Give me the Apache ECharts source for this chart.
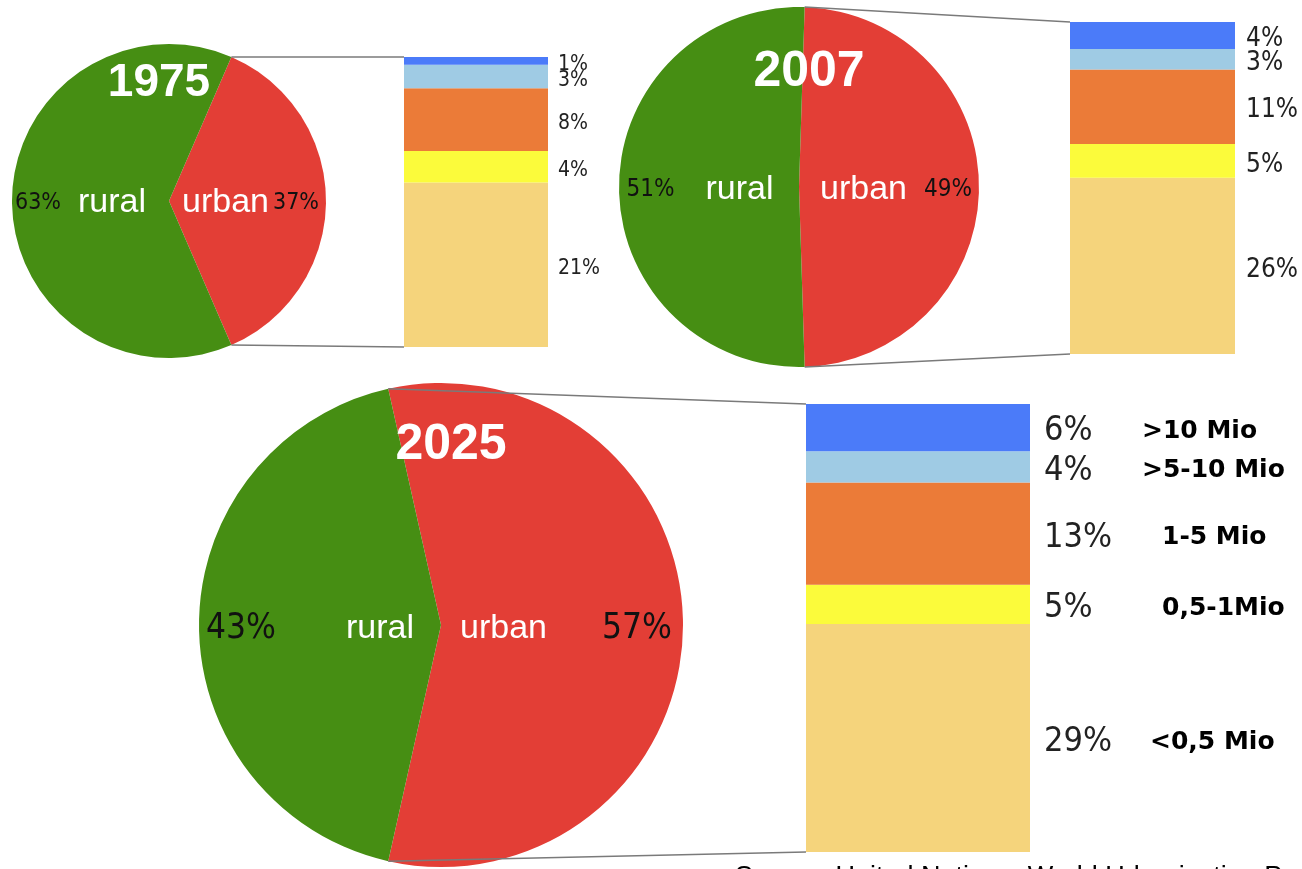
<!DOCTYPE html>
<html>
<head>
<meta charset="utf-8">
<script src="https://cdn.jsdelivr.net/npm/echarts@6/dist/echarts.min.js"></script>
<style>
  html, body { margin: 0; padding: 0; background: #fff; }
  #chart { width: 1302px; height: 869px; }
</style>
</head>
<body>
<div id="chart"></div>
<script>
// values
const years = ['1975', '2007', '2025'];
const ruralShare = [63, 51, 43];
const urbanShare = [37, 49, 57];
// urban population by city size, bottom of the bar first
const sizeClasses = ['<0,5 Mio', '0,5-1Mio', '1-5 Mio', '>5-10 Mio', '>10 Mio'];
const share1975 = [21, 4, 8, 3, 1];
const share2007 = [26, 5, 11, 3, 4];
const share2025 = [29, 5, 13, 4, 6];
const sourceText = 'Source: United Nations, World Urbanization Prospects';

const shares = [share1975, share2007, share2025];
const classColors = ['#f5d47c', '#fbfb3b', '#eb7b38', '#9fcbe4', '#4b7bf9'];
const nameIndent = [8, 20, 20, 0, 0];
const narrow = "'DejaVu Sans Condensed', 'Liberation Sans Narrow', sans-serif";
const sans = "'Liberation Sans', Arial, sans-serif";

// layout of the three panels
const panels = [
  { center: [169, 201], r: 157, grid: { left: 404, top: 57, width: 144, height: 290 },
    barFont: 21, barDist: 10, pieFont: 23, titleFont: 46, titleOff: [-10, -118],
    ruralOff: [-7, 2], urbanOff: [0, 2], ruralGap: 17, urbanGap: 4 },
  { center: [799, 187], r: 180, grid: { left: 1070, top: 22, width: 165, height: 332 },
    barFont: 26, barDist: 11, pieFont: 24, titleFont: 50, titleOff: [10, -115],
    ruralOff: [-6, 3], urbanOff: [4, 3], ruralGap: 31, urbanGap: 17 },
  { center: [441, 625], r: 242, grid: { left: 806, top: 404, width: 224, height: 448 },
    barFont: 34, barDist: 14, pieFont: 35, titleFont: 50, titleOff: [10, -180],
    ruralOff: [-7, 4], urbanOff: [1, 4], ruralGap: 70, urbanGap: 55, withNames: true }
];

const chart = echarts.init(document.getElementById('chart'));

const series = [];
panels.forEach(function (p, i) {
  const u = urbanShare[i];
  series.push({
    type: 'pie',
    center: p.center,
    radius: p.r,
    startAngle: u * 1.8,
    clockwise: true,
    silent: true,
    avoidLabelOverlap: false,
    labelLine: { show: false },
    data: [
      {
        name: 'urban', value: u,
        itemStyle: { color: '#e33e36' },
        label: {
          show: true, position: 'inside', offset: p.urbanOff,
          formatter: '{n|urban}{p|' + u + '%}',
          rich: {
            n: { fontFamily: sans, fontSize: 34, color: '#fff', padding: [0, p.urbanGap, 0, 0], lineHeight: 40 },
            p: { fontFamily: narrow, fontSize: p.pieFont, color: '#111', lineHeight: 40 }
          }
        }
      },
      {
        name: 'rural', value: ruralShare[i],
        itemStyle: { color: '#468e13' },
        label: {
          show: true, position: 'inside', offset: p.ruralOff,
          formatter: '{p|' + ruralShare[i] + '%}{n|rural}',
          rich: {
            n: { fontFamily: sans, fontSize: 34, color: '#fff', padding: [0, 0, 0, p.ruralGap], lineHeight: 40 },
            p: { fontFamily: narrow, fontSize: p.pieFont, color: '#111', lineHeight: 40 }
          }
        }
      }
    ]
  });

  shares[i].forEach(function (v, k) {
    const label = {
      show: true, position: 'right', distance: p.barDist, offset: [0, 4],
      fontFamily: narrow, fontSize: p.barFont, color: '#222'
    };
    if (p.withNames) {
      label.formatter = '{p|{c}%}{n|' + sizeClasses[k] + '}';
      label.rich = {
        p: { fontFamily: narrow, fontSize: p.barFont, color: '#222', width: 98 },
        n: { fontFamily: "'DejaVu Sans', sans-serif", fontWeight: 'bold', fontSize: 25, color: '#000', padding: [0, 0, 0, nameIndent[k]] }
      };
    } else {
      label.formatter = '{c}%';
    }
    series.push({
      type: 'bar',
      name: sizeClasses[k],
      xAxisIndex: i,
      yAxisIndex: i,
      stack: 'city' + i,
      barWidth: '100%',
      silent: true,
      data: [v],
      itemStyle: { color: classColors[k] },
      label: label
    });
  });
});

// grey lines from the urban slice edge to the bar
const graphics = [];
panels.forEach(function (p, i) {
  const theta = (90 - urbanShare[i] * 1.8) * Math.PI / 180;
  const sx = p.center[0] + p.r * Math.sin(theta);
  const sy = p.center[1] - p.r * Math.cos(theta);
  const by = p.center[1] + p.r * Math.cos(theta);
  graphics.push({
    type: 'line', z: 50,
    shape: { x1: sx, y1: sy, x2: p.grid.left, y2: p.grid.top },
    style: { stroke: '#7a7a7a', lineWidth: 1.5 }
  });
  graphics.push({
    type: 'line', z: 50,
    shape: { x1: sx, y1: by, x2: p.grid.left, y2: p.grid.top + p.grid.height },
    style: { stroke: '#7a7a7a', lineWidth: 1.5 }
  });
  graphics.push({
    type: 'text', z: 100,
    x: p.center[0] + p.titleOff[0], y: p.center[1] + p.titleOff[1],
    style: {
      text: years[i], fill: '#fff', font: 'bold ' + p.titleFont + 'px ' + sans,
      textAlign: 'center', textVerticalAlign: 'middle'
    }
  });
});
graphics.push({
  type: 'text', z: 100, x: 735, y: 878,
  style: { text: sourceText, fill: '#000', font: '27px ' + sans, textAlign: 'left', textVerticalAlign: 'middle' }
});

chart.setOption({
  animation: false,
  grid: panels.map(function (p) { return p.grid; }),
  xAxis: panels.map(function (p, i) {
    return { type: 'category', gridIndex: i, data: [years[i]], show: false };
  }),
  yAxis: panels.map(function (p, i) {
    return { type: 'value', gridIndex: i, min: 0, max: urbanShare[i], show: false };
  }),
  series: series,
  graphic: graphics
});
</script>
</body>
</html>
